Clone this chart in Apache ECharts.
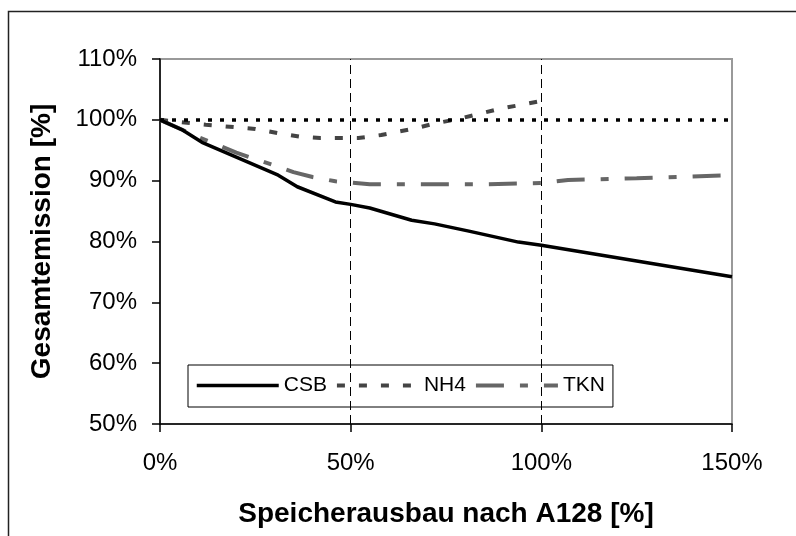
<!DOCTYPE html>
<html>
<head>
<meta charset="utf-8">
<script src="https://cdn.jsdelivr.net/npm/echarts@6/dist/echarts.min.js"></script>
<style>
  html, body { margin: 0; padding: 0; background: #fff; }
  #chart { width: 796px; height: 536px; }
</style>
</head>
<body>
<div id="chart"></div>
<script>
// Speicherausbau [%] / Gesamtemission [%]
const csbX = [0, 6, 11, 31, 36, 46, 50, 55, 66, 72, 81, 94, 100, 150]
const csbY = [100, 98.3, 96.3, 90.9, 89.0, 86.5, 86.1, 85.5, 83.5, 82.9, 81.7, 79.9, 79.4, 74.2]

const nh4X = [0, 12, 25, 31, 37, 42, 52, 58, 67, 72, 78, 89, 100]
const nh4Y = [100, 99.2, 98.5, 97.8, 97.2, 97.0, 97.0, 97.5, 98.6, 99.4, 100.1, 101.8, 103.1]

const tknX = [0, 10, 20, 30, 35, 40, 46, 55, 85, 100, 107, 125, 150]
const tknY = [100, 97.2, 94.6, 92.5, 91.4, 90.6, 89.9, 89.4, 89.4, 89.6, 90.1, 90.4, 90.9]

const seriesNames = ['CSB', 'NH4', 'TKN']
const refLineX = [50, 100]
const refLineY = 100

const pairs = (xs, ys) => xs.map((x, i) => [x, ys[i]])

const font = "'Liberation Sans', Arial, sans-serif"

const chart = echarts.init(document.getElementById('chart'), null, { renderer: 'canvas' })

chart.setOption({
    animation: false,
    backgroundColor: '#fff',
    textStyle: { fontFamily: font, color: '#000' },
    graphic: [
        {
            type: 'rect',
            shape: { x: 8.5, y: 11.5, width: 800, height: 540 },
            style: { fill: 'none', stroke: '#222', lineWidth: 1.5 },
            silent: true
        }
    ],
    grid: {
        left: 160,
        right: 64,
        top: 59,
        bottom: 112,
        show: true,
        borderColor: '#999',
        borderWidth: 2,
        backgroundColor: 'transparent'
    },
    legend: {
        left: 188,
        top: 365,
        orient: 'horizontal',
        data: seriesNames,
        itemWidth: 82,
        itemHeight: 14,
        itemGap: 8,
        padding: [10, 8, 11, 7],
        borderColor: '#000',
        borderWidth: 1,
        backgroundColor: '#fff',
        // no marker on the legend lines, only the line pattern
        itemStyle: { opacity: 0 },
        lineStyle: { width: 'inherit' },
        textStyle: { fontFamily: font, fontSize: 21, color: '#000' }
    },
    xAxis: {
        type: 'value',
        min: 0,
        max: 150,
        interval: 50,
        name: 'Speicherausbau nach A128 [%]',
        nameLocation: 'middle',
        nameGap: 76,
        nameTextStyle: { fontFamily: font, fontSize: 28, fontWeight: 'bold', color: '#000' },
        axisLine: { lineStyle: { color: '#000', width: 1.5 } },
        axisTick: { show: true, inside: false, length: 8, lineStyle: { color: '#000', width: 1.5 } },
        axisLabel: { formatter: '{value}%', fontSize: 24, color: '#000', margin: 27 },
        splitLine: { show: false }
    },
    yAxis: {
        type: 'value',
        min: 50,
        max: 110,
        interval: 10,
        name: 'Gesamtemission [%]',
        nameLocation: 'middle',
        nameRotate: 90,
        nameGap: 104,
        nameTextStyle: { fontFamily: font, fontSize: 28, fontWeight: 'bold', color: '#000' },
        axisLine: { lineStyle: { color: '#000', width: 1.5 } },
        axisTick: { show: true, inside: false, length: 8, lineStyle: { color: '#000', width: 1.5 } },
        axisLabel: { formatter: '{value}%', fontSize: 24, color: '#000', margin: 23 },
        splitLine: { show: false }
    },
    series: [
        {
            name: 'CSB',
            type: 'line',
            data: pairs(csbX, csbY),
            symbol: 'none',
            z: 4,
            lineStyle: { color: '#000', width: 3.5 },
            itemStyle: { color: '#000' },
            markLine: {
                silent: true,
                symbol: 'none',
                label: { show: false },
                animation: false,
                data: [
                    ...refLineX.map(x => ({
                        xAxis: x,
                        lineStyle: { color: '#000', width: 1, type: [9, 5] }
                    })),
                    {
                        yAxis: refLineY,
                        lineStyle: { color: '#000', width: 3.5, type: [4, 8] }
                    }
                ]
            }
        },
        {
            name: 'NH4',
            type: 'line',
            data: pairs(nh4X, nh4Y),
            symbol: 'none',
            z: 3,
            lineStyle: { color: '#444', width: 4, type: [8, 14] },
            itemStyle: { color: '#444' }
        },
        {
            name: 'TKN',
            type: 'line',
            data: pairs(tknX, tknY),
            symbol: 'none',
            z: 3,
            lineStyle: { color: '#666', width: 4, type: [28, 16, 8, 16] },
            itemStyle: { color: '#666' }
        }
    ]
})
</script>
</body>
</html>
